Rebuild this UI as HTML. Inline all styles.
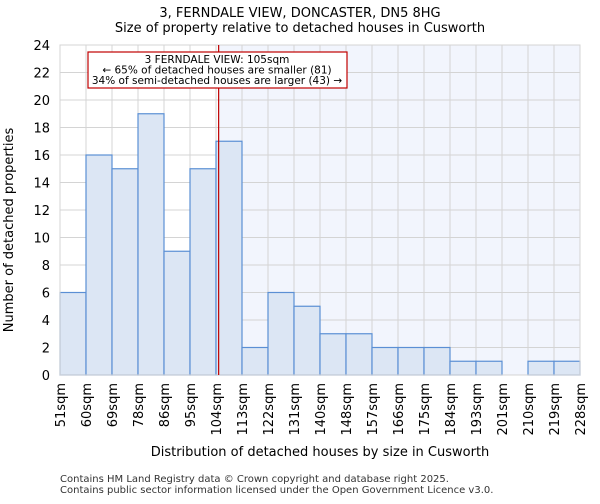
<!DOCTYPE html>
<html><head><meta charset="utf-8"><style>
body{margin:0;background:#fff;font-family:"DejaVu Sans","Liberation Sans",sans-serif}
</style></head><body>
<svg id="c" width="600" height="500" xmlns="http://www.w3.org/2000/svg" font-family="DejaVu Sans, Liberation Sans, sans-serif"></svg>
<script>
const binLabels=["51sqm","60sqm","69sqm","78sqm","86sqm","95sqm","104sqm","113sqm","122sqm","131sqm","140sqm","148sqm","157sqm","166sqm","175sqm","184sqm","193sqm","201sqm","210sqm","219sqm","228sqm"];
const counts=[6,16,15,19,9,15,17,2,6,5,3,3,2,2,2,1,1,0,1,1];
const yTicks=[0,2,4,6,8,10,12,14,16,18,20,22,24];
const binStart=51, binStep=8.85, propertySize=105;
const L=60,R=580,T=45,B=375,yMax=24;
const svg=document.getElementById('c');
const NS='http://www.w3.org/2000/svg';
const bw=(R-L)/counts.length;
const x=v=>L+(v-binStart)/binStep*bw;
const xi=i=>L+i*bw;
const y=v=>B-v/yMax*(B-T);
function mk(t,a,parent){const e=document.createElementNS(NS,t);for(const k in a)e.setAttribute(k,a[k]);(parent||svg).appendChild(e);return e;}
const px=x(propertySize);
let bg=mk('rect',{x:px,y:T,width:R-px,height:B-T,fill:'#f2f5fd'});


yTicks.forEach(t=>{let g=mk('line',{x1:L,x2:R,y1:y(t),y2:y(t),stroke:'#d4d4d4','stroke-width':1});


let tx=mk('text',{x:L-10,y:y(t)+5,'text-anchor':'end','font-size':13,fill:'#000'});tx.textContent=t;

});
binLabels.forEach((lab,i)=>{const xx=xi(i);
let g=mk('line',{x1:xx,x2:xx,y1:T,y2:B,stroke:'#d4d4d4','stroke-width':1});


let tx=mk('text',{x:0,y:0,'text-anchor':'end','font-size':13,transform:`translate(${xx+5},${B+8}) rotate(-90)`});tx.textContent=lab;

});
counts.forEach((c,i)=>{if(c<=0)return;let r=mk('rect',{x:xi(i),y:y(c),width:bw,height:B-y(c),fill:'#dce6f4',stroke:'#5b8fd4','stroke-width':1.2});

});
let ax=mk('rect',{x:L,y:T,width:R-L,height:B-T,fill:'none',stroke:'#d4d4d4'});


let pl=mk('line',{x1:px,x2:px,y1:T,y2:B,stroke:'#c00000','stroke-width':1.2});


let g=mk('g',{});


mk('rect',{x:88,y:52,width:259,height:36,fill:'#fff',stroke:'#c00000','stroke-width':1.2},g);
["3 FERNDALE VIEW: 105sqm","← 65% of detached houses are smaller (81)","34% of semi-detached houses are larger (43) →"].forEach((s,i)=>{let t=mk('text',{x:217,y:63+i*10.5,'text-anchor':'middle','font-size':10.5},g);t.textContent=s;});
[["3, FERNDALE VIEW, DONCASTER, DN5 8HG",17,'chart-title'],["Size of property relative to detached houses in Cusworth",32,'chart-subtitle']].forEach(([s,yy,n])=>{let t=mk('text',{x:300,y:yy,'text-anchor':'middle','font-size':13});t.textContent=s;

});
let xt=mk('text',{x:320,y:456,'text-anchor':'middle','font-size':13});xt.textContent="Distribution of detached houses by size in Cusworth";


let yt=mk('text',{x:0,y:0,'text-anchor':'middle','font-size':13,transform:'translate(13,230) rotate(-90)'});yt.textContent="Number of detached properties";


[["Contains HM Land Registry data © Crown copyright and database right 2025.",482],["Contains public sector information licensed under the Open Government Licence v3.0.",493]].forEach(([s,yy])=>{let t=mk('text',{x:60,y:yy,'font-size':10,fill:'#333'});t.textContent=s;

});
</script>
</body></html>
